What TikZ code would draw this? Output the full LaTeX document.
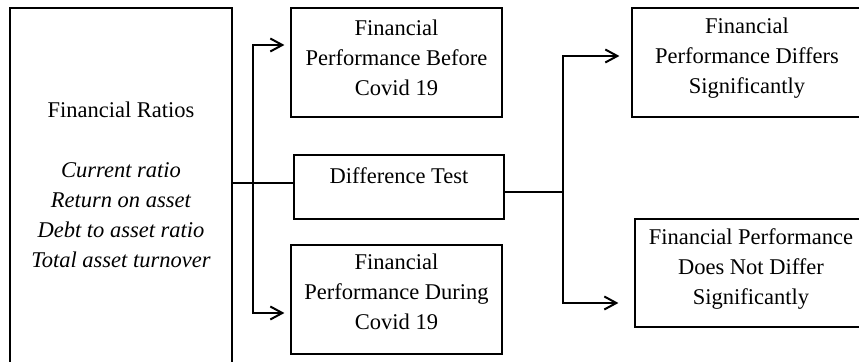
\documentclass[tikz,border=0pt]{standalone}
\usepackage{fontspec}
\setmainfont{Liberation Serif}
\usetikzlibrary{arrows.meta}

\begin{document}
\begin{tikzpicture}[x=0.5pt,y=-0.5pt]
				\tikzstyle{every node}=[inner sep=0pt, align=center, font=\fontsize{11.25}{15}\selectfont]
				\tikzstyle{box}=[draw, rectangle, line width=0.6pt]
				\tikzstyle{link}=[line width=1pt, >={Straight Barb[length=6pt,width=6.5pt]}]
				\clip (0,0) rectangle (859,362);
				% inputs
				\draw (121,190) node[box, minimum width=111pt, minimum height=182pt] (ratios) {};
				\draw (121,185) node (ratiostext) {Financial Ratios\\[15pt]
 					\textit{Current ratio}\\ \textit{Return on asset}\\
 					\textit{Debt to asset ratio}\\ \textit{Total asset turnover}};
				\draw (396.5,62.5) node[box, minimum width=105.5pt, minimum height=54.5pt] (before) {};
				\draw (396.5,57.5) node (beforetext) {Financial\\ Performance Before\\ Covid 19};
				\draw (399,187) node[box, minimum width=105pt, minimum height=32pt] (diff) {};
				\draw (399,176) node (difftext) {Difference Test};
				\draw (396.5,299.5) node[box, minimum width=105.5pt, minimum height=54.5pt] (during) {};
				\draw (396.5,292) node (duringtext) {Financial\\ Performance During\\ Covid 19};
				% results
				\draw (747,62.5) node[box, minimum width=115pt, minimum height=54.5pt] (differs) {};
				\draw (747,58) node (differstext) {Financial\\ Performance Differs\\ Significantly};
				\draw (748.5,273) node[box, minimum width=113.5pt, minimum height=54pt] (nodiff) {};
				\draw (751,269) node (nodifftext) {Financial Performance\\ Does Not Differ\\ Significantly};
				\coordinate (lmid) at (253,183);
				\coordinate (ltop) at (253,45);
				\coordinate (lbot) at (253,313);
				\coordinate (rmid) at (563,192);
				\coordinate (rtop) at (563,56);
				\coordinate (rbot) at (563,303);
				\draw[link] (ratios.east |- lmid) -- (diff.west |- lmid);
				\draw[link, <->, shorten <=3pt, shorten >=3pt] (before.west |- ltop) -- (ltop) -- (lbot) -- (during.west |- lbot);
				\draw[link] (diff.east |- rmid) -- (rmid);
				\draw[link, <->, shorten <=6pt, shorten >=8pt] (differs.west |- rtop) -- (rtop) -- (rbot) -- (nodiff.west |- rbot);
\end{tikzpicture}
\end{document}
